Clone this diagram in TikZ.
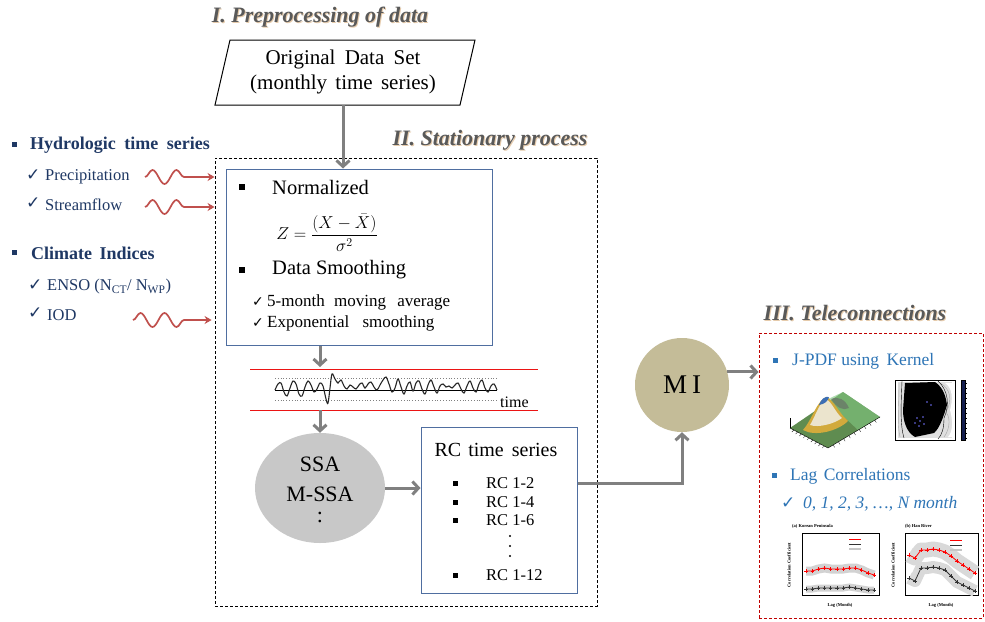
\documentclass[tikz,border=0pt]{standalone}
\usepackage{fontspec}
\setmainfont{Liberation Serif}
\newfontfamily\sym{DejaVu Sans}
\usetikzlibrary{arrows.meta,decorations.pathmorphing,shapes.geometric,calc}
\definecolor{ttlgray}{RGB}{89,89,89}
\definecolor{ttlshadow}{RGB}{200,140,70}
\definecolor{navy}{RGB}{31,56,100}
\definecolor{boxblue}{RGB}{79,110,160}
\definecolor{garrow}{RGB}{128,128,128}
\definecolor{wred}{RGB}{192,80,77}
\definecolor{tblue}{RGB}{46,117,182}
\definecolor{migold}{RGB}{196,188,152}
\definecolor{ssagray}{RGB}{200,200,200}
\definecolor{redline}{RGB}{235,20,20}
\definecolor{dashred}{RGB}{192,0,0}
\definecolor{surfgreen}{RGB}{95,140,80}
\definecolor{surfyel}{RGB}{210,170,60}
\definecolor{surfwhite}{RGB}{235,228,205}
\definecolor{surfblue}{RGB}{60,110,180}
\definecolor{cbar}{RGB}{20,30,80}
\begin{document}
\begin{tikzpicture}[x=1pt,y=-1pt,
  ttl/.style={font=\fontsize{22}{24}\selectfont\bfseries\itshape, text=ttlgray, inner sep=0pt},
  ttlsh/.style={font=\fontsize{22}{24}\selectfont\bfseries\itshape, text=ttlshadow, opacity=0.45, inner sep=0pt},
  hd/.style={font=\fontsize{18}{20}\selectfont\bfseries, text=navy, anchor=west, inner sep=0pt},
  itm/.style={font=\fontsize{16.5}{18}\selectfont, text=navy, anchor=west, inner sep=0pt},
  chk/.style={font=\sym\fontsize{17}{18}\selectfont, anchor=west, inner sep=0pt},
  big/.style={font=\fontsize{20.5}{24}\selectfont, inner sep=0pt},
  mid/.style={font=\fontsize{17}{19}\selectfont, inner sep=0pt, anchor=west},
  small/.style={font=\fontsize{16.5}{18}\selectfont, inner sep=0pt, anchor=west},
  blu/.style={font=\fontsize{17.5}{20}\selectfont, text=tblue, inner sep=0pt, anchor=west},
  rbox/.style={draw=boxblue, line width=1pt, inner sep=0pt},
  garr/.style={draw=garrow, line width=3pt, -{Straight Barb[length=6pt,width=13pt]}},
  wave/.style={draw=wred, line width=1.7pt, decorate,
     decoration={snake, amplitude=7pt, segment length=24pt, post length=19pt},
     -{Stealth[length=7pt,width=8pt]}},
  tiny/.style={font=\fontsize{4.5}{5}\selectfont\bfseries, inner sep=0pt},
]
\useasboundingbox (0,0) rectangle (985,621);
\fill[white] (0,0) rectangle (985,621);

% ---------- titles ----------
\node[ttlsh] at (321,18) {I. Preprocessing of data};
\node[ttl] (t1) at (320,17) {I. Preprocessing of data};
\node[ttlsh] at (491,141) {II. Stationary process};
\node[ttl] (t2) at (490,140) {II. Stationary process};
\node[ttlsh] at (856,314) {III. Teleconnections};
\node[ttl] (t3) at (855,313) {III. Teleconnections};

% ---------- original data ----------
\draw[line width=1pt] (230,40) -- (475,40) -- (460,105) -- (215,105) -- cycle;
\node[font=\fontsize{21}{25}\selectfont, align=center, inner sep=0pt] (orig) at (343,72) {Original\hspace{4pt} Data\hspace{4pt} Set\\(monthly\hspace{3pt} time\hspace{3pt} series)};
\coordinate (origb) at (343,105);

% ---------- stationary box ----------
\node[draw=black, line width=0.9pt, dash pattern=on 3pt off 2pt, minimum width=382pt, minimum height=448pt, inner sep=0pt] (stat) at (406,382) {};

% ---------- left lists ----------
\fill[navy] (12,142) rectangle (17,147);
\node[hd] (hyd) at (30,145) {Hydrologic\hspace{4pt} time\hspace{4pt} series};
\node[chk, text=navy] at (26,175) {✓};
\node[itm] (prec) at (45,177) {Precipitation};
\node[chk, text=navy] at (26,203) {✓};
\node[itm] (strm) at (45,205) {Streamflow};
\fill[navy] (12,250) rectangle (17,255);
\node[hd] (clim) at (31,253) {Climate\hspace{3pt} Indices};
\node[chk, text=navy] at (28,285) {✓};
\node[itm] (enso) at (47,287) {ENSO (N\textsubscript{CT}/ N\textsubscript{WP})};
\node[chk, text=navy] at (28,313) {✓};
\node[itm] (iod) at (47,315) {IOD};

\coordinate (w1) at (145,177);
\coordinate (w2) at (145,207);
\coordinate (w3) at (133,320);
\draw[wave] (w1) -- (w1 -| stat.west);
\draw[wave] (w2) -- (w2 -| stat.west);
\draw[wave] (w3) -- ([xshift=-3pt]w3 -| stat.west);

% ---------- normalization box ----------
\node[rbox, minimum width=266pt, minimum height=176pt] (norm) at (359.5,257) {};
\fill (239,184) rectangle (245,190);
\node[big, anchor=west] (nrm) at (272,187) {Normalized};
\node[font=\fontsize{17.5}{19}\selectfont, inner sep=0pt] (eq) at (327,233) {$\displaystyle Z=\frac{(X-\bar{X})}{\sigma^{2}}$};
\fill (239,267) rectangle (245,273);
\node[big, anchor=west] (dsm) at (272,270) {Data Smoothing};
\node[chk, font=\sym\fontsize{14}{15}\selectfont] at (252,302) {✓};
\node[mid] (ma) at (267,302) {5-month\hspace{5pt} moving\hspace{7pt} average};
\node[chk, font=\sym\fontsize{14}{15}\selectfont] at (252,323) {✓};
\node[mid] (es) at (267,323) {Exponential\hspace{9pt} smoothing};

\draw[garr] (origb) -- (origb |- norm.north);

% ---------- time series ----------
\coordinate (tsTop) at (320,367);
\coordinate (tsBot) at (320,410);
\draw[garr] (norm.south -| tsTop) -- (tsTop);
\draw[redline, line width=1pt] (250,369) -- (538,369);
\draw[redline, line width=1pt] (250,410) -- (538,410);
\draw[gray, line width=0.8pt, dotted] (275,378) -- (497,378);
\draw[gray, line width=0.8pt, dotted] (275,400) -- (497,400);
\draw[black, line width=0.8pt] (275,390) -- (497,390);
\draw[black!85, line width=1.1pt] plot[smooth, tension=0.6] coordinates {
(275,390) (278,384) (281,383) (284,392) (287,396) (290,388) (293,381) (296,384) (299,394) (302,396) (305,387) (308,381) (311,385) (314,392) (317,389) (320,383) (323,386) (326,399) (328,403) (330,388) (332,374) (335,379) (338,383) (341,380) (344,386) (347,389) (350,385) (353,387) (356,389) (359,385) (362,383) (365,388) (368,384) (371,382) (374,387) (377,390) (380,385) (383,380) (386,377) (389,384) (392,392) (395,388) (398,379) (401,387) (404,394) (407,386) (410,382) (413,391) (416,383) (419,381) (422,389) (425,394) (428,385) (431,380) (434,387) (437,393) (440,386) (443,384) (446,387) (449,386) (452,388) (455,385) (458,383) (461,389) (464,393) (467,386) (470,381) (473,388) (476,392) (479,384) (482,380) (485,388) (488,392) (491,386) (494,384) (497,390)};
\node[small, font=\fontsize{16}{18}\selectfont] (time) at (500,402) {time};

% ---------- SSA ----------
\node[ellipse, fill=ssagray, minimum width=130pt, minimum height=110pt, inner sep=0pt] (ssa) at (320,488) {};
\node[font=\fontsize{22}{30}\selectfont, inner sep=0pt, align=center] (ssat) at (320,490) {SSA\\M-SSA\\[-9pt]:};
\draw[garr] (tsBot) -- (ssa.north);

% ---------- RC box ----------
\node[rbox, minimum width=156pt, minimum height=166pt] (rc) at (499,510) {};
\node[big, font=\fontsize{20}{24}\selectfont] (rct) at (496,450) {RC\hspace{2pt} time\hspace{3pt} series};
\foreach \yy/\tt [count=\i] in {483/RC 1-2, 502/RC 1-4, 520/RC 1-6, 575/RC 1-12}{
  \fill (453,\yy-2.5) rectangle (458,\yy+2.5);
  \node[small] (rc\i) at (486,\yy) {\tt};
}
\fill (510,536) circle (1.1);
\fill (510,546) circle (1.1);
\fill (510,556) circle (1.1);
\draw[garr] (ssa.east) -- (ssa.east -| rc.west);

% ---------- MI ----------
\node[circle, fill=migold, minimum size=94pt, inner sep=0pt, font=\fontsize{27}{28}\selectfont] (mi) at (682,385) {M\hspace{5pt}I};
\draw[garr] ([yshift=27pt]rc.east) -| (mi.south);

% ---------- teleconnections box ----------
\node[draw=dashred, line width=0.9pt, dash pattern=on 3pt off 2pt, minimum width=224pt, minimum height=285pt, inner sep=0pt] (tele) at (871,475.5) {};
\draw[garr] (mi.16) -- (mi.16 -| tele.west);

\fill[tblue] (773,358) rectangle (778,363);
\node[blu] (jpdf) at (792,361) {J-PDF using\hspace{3pt} Kernel};
\fill[tblue] (772,473) rectangle (777,478);
\node[blu] (lagc) at (790,476) {Lag\hspace{2pt} Correlations};
\node[chk, text=tblue, font=\sym\fontsize{17}{18}\selectfont] at (781,503) {✓};
\node[blu, font=\fontsize{17.5}{20}\selectfont\itshape] (lags) at (803,504) {0, 1, 2, 3, \dots, \textit{N} month};

% 3D surface
\fill[surfgreen] (790,428) -- (843,392) -- (880,417) -- (828,448) -- cycle;
\fill[green!40!gray!70, opacity=0.6] (843,392) -- (880,417) -- (858,430) -- (826,400) -- cycle;
\fill[surfyel] (803,430) .. controls (812,420) and (816,402) .. (826,397) .. controls (834,400) and (838,412) .. (848,421) .. controls (838,431) and (815,437) .. cycle;
\fill[surfwhite] (810,425) .. controls (816,415) and (819,403) .. (826,399) .. controls (832,402) and (835,412) .. (842,418) .. controls (834,424) and (818,428) .. cycle;
\fill[surfblue] (819,405) .. controls (821,399) and (825,396) .. (829,397) .. controls (828,401) and (825,404) .. cycle;
\fill[black!60, opacity=0.6] (831,399) .. controls (838,396) and (845,399) .. (849,408) .. controls (843,411) and (837,408) .. cycle;
\draw[black, line width=0.4pt] (790,428) -- (828,448) -- (880,417);
\foreach \t in {0.1,0.2,...,0.95}{
  \draw[line width=0.3pt] ($(790,428)!\t!(828,448)$) -- ++(-2,2);
  \draw[line width=0.3pt] ($(828,448)!\t!(880,417)$) -- ++(1.5,2.5);
}
\draw[line width=0.3pt] (790,428) -- (790,418);

% contour plot
\draw[line width=0.5pt, fill=white] (895,380) rectangle (955,440);
\fill[gray!25] (898,382) -- (952,382) -- (952,438) -- (898,438) -- cycle;
\fill[white] (945,383) .. controls (953,388) and (953,400) .. (950,410) .. controls (953,420) and (953,432) .. (948,437) -- (952,437) -- (952,383) -- cycle;
\draw[gray!70, line width=0.4pt] (899,383) .. controls (899,405) and (897,425) .. (900,437);
\draw[gray!70, line width=0.4pt] (940,383) .. controls (950,388) and (953,400) .. (946,412) .. controls (952,420) and (948,432) .. (944,437);
\fill[black] (905,383) -- (935,382) .. controls (944,388) and (946,398) .. (947,405) .. controls (944,415) and (940,428) .. (934,433) -- (915,437) .. controls (906,432) and (903,420) .. (903,410) -- cycle;
\draw[line width=0.4pt] (902,381) .. controls (901,405) and (900,425) .. (904,438);
\draw[line width=0.4pt] (938,381) .. controls (948,390) and (950,405) .. (944,418) .. controls (944,428) and (942,435) .. (938,439);
\foreach \p in {(917,418),(920,421),(923,417),(915,423),(927,402),(931,405),(919,426),(924,424)}{
  \fill[blue!55] \p circle (0.8);
}
\draw[line width=0.4pt, fill=cbar] (961,380) rectangle (965,440);
\foreach \yy in {383,388,...,438}{\draw[line width=0.2pt] (965,\yy) -- (967,\yy);}

% chart a
\node[tiny, anchor=west] (cta) at (792,526) {(a) Korean Peninsula};
\draw[line width=0.6pt] (802,533) rectangle (879,595);
\draw[gray!35, line width=9pt] plot coordinates {(806,571) (812.2,571) (818.4,569) (824.6,568) (830.8,569) (837,569) (843.2,569) (849.4,568) (855.6,568) (861.8,570) (868,573) (874.2,575)};
\draw[gray!35, line width=7pt] plot coordinates {(806,589) (812.2,589) (818.4,588) (824.6,588) (830.8,588) (837,588) (843.2,588) (849.4,587) (855.6,588) (861.8,589) (868,590) (874.2,590)};
\draw[red, line width=0.8pt] plot[mark=+, mark size=1.6pt] coordinates {(806,571) (812.2,571) (818.4,569) (824.6,568) (830.8,569) (837,569) (843.2,569) (849.4,568) (855.6,568) (861.8,570) (868,573) (874.2,575)};
\draw[black!80, line width=0.8pt] plot[mark=+, mark size=1.6pt] coordinates {(806,589) (812.2,589) (818.4,588) (824.6,588) (830.8,588) (837,588) (843.2,588) (849.4,587) (855.6,588) (861.8,589) (868,590) (874.2,590)};
\draw[red, line width=0.8pt] (849,539) -- (861,539);
\draw[black!80, line width=0.8pt] (849,544) -- (861,544);
\draw[gray!45, line width=2pt] (849,549) -- (861,549);
\node[tiny] (xla) at (840,605) {Lag (Month)};
\node[tiny, rotate=90] (yla) at (789,565) {Correlation Coefficient};

% chart b
\node[tiny, anchor=west] (ctb) at (905,526) {(b) Han River};
\draw[line width=0.6pt] (905,533) rectangle (978,595);
\draw[gray!30, line width=15pt, line join=round] plot coordinates {(909,555) (915,558) (921,550) (927,550) (933,549) (939,550) (945,552) (951,556) (957,561) (963,565) (969,569) (975,573)};
\draw[gray!30, line width=12pt, line join=round] plot coordinates {(909,578) (915,581) (921,568) (927,568) (933,567) (939,568) (945,570) (951,576) (957,582) (963,585) (969,588) (975,591)};
\draw[red, line width=0.8pt] plot[mark=+, mark size=1.6pt] coordinates {(909,555) (915,558) (921,550) (927,550) (933,549) (939,550) (945,552) (951,556) (957,561) (963,565) (969,569) (975,573)};
\draw[black!80, line width=0.8pt] plot[mark=+, mark size=1.6pt] coordinates {(909,578) (915,581) (921,568) (927,568) (933,567) (939,568) (945,570) (951,576) (957,582) (963,585) (969,588) (975,591)};
\draw[red, line width=0.8pt] (950,540) -- (962,540);
\draw[black!80, line width=0.8pt] (950,545) -- (962,545);
\draw[gray!45, line width=2pt] (950,550) -- (962,550);
\node[tiny] (xlb) at (941,605) {Lag (Month)};
\node[tiny, rotate=90] (ylb) at (893,565) {Correlation Coefficient};
\end{tikzpicture}
\end{document}
